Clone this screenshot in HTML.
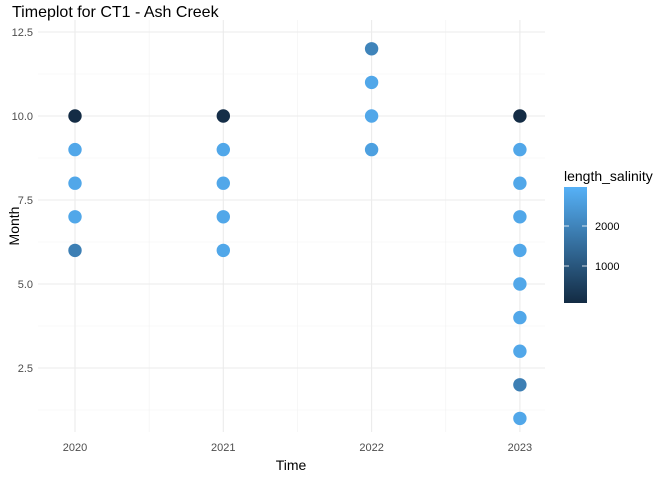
<!DOCTYPE html>
<html><head><meta charset="utf-8"><style>body{margin:0;background:#fff}svg{display:block;font-family:"Liberation Sans",sans-serif}</style></head>
<body>
<svg id="c" width="672" height="480">
<defs><linearGradient id="g" x1="0" y1="1" x2="0" y2="0"><stop offset="0" stop-color="#132B43"/><stop offset="1" stop-color="#56B1F7"/></linearGradient></defs>
<text x="12" y="17" font-size="16" fill="#000">Timeplot for CT1 - Ash Creek</text>
<g id="grid"></g><g id="pts"></g><g id="axes"></g>
<text x="291" y="470" font-size="14" text-anchor="middle">Time</text>
<text transform="translate(19,226) rotate(-90)" font-size="14" text-anchor="middle">Month</text>
<text x="564" y="181" font-size="14">length_salinity</text>
<rect x="564" y="187" width="23" height="116" fill="url(#g)"/>
<g id="leg"></g>
</svg>
<script>
const years=[2020,2020,2020,2020,2020,2021,2021,2021,2021,2021,2022,2022,2022,2022,2023,2023,2023,2023,2023,2023,2023,2023,2023,2023];
const months=[10,9,8,7,6,10,9,8,7,6,12,11,10,9,10,9,8,7,6,5,4,3,2,1];
const salinity=[100,2750,2750,2750,1900,150,2750,2750,2750,2750,2000,2750,2750,2600,100,2750,2750,2750,2750,2750,2750,2750,1900,2750];
const xTicks=[2020,2021,2022,2023];
const yTicks=[2.5,5.0,7.5,10.0,12.5];
const legTicks=[1000,2000];
const NS="http://www.w3.org/2000/svg";
const x=v=>75+(v-2020)*148.3;
const y=v=>116-(v-10)*33.6;
const cmin=75,cmax=2975;
const ly=v=>303-(v-cmin)/(cmax-cmin)*116;
function col(v){let t=Math.max(0,Math.min(1,(v-cmin)/(cmax-cmin)));
const a=[0x13,0x2B,0x43],b=[0x56,0xB1,0xF7];return `rgb(${a.map((c,i)=>Math.round(c+(b[i]-c)*t)).join(',')})`;}
function mk(tag,at,par){const e=document.createElementNS(NS,tag);for(const k in at)e.setAttribute(k,at[k]);document.getElementById(par).appendChild(e);return e;}
const L=38,R=545,T=20,B=432;
for(let i=0;i<xTicks.length;i++){
 let g=mk('line',{x1:x(xTicks[i]),x2:x(xTicks[i]),y1:T,y2:B,stroke:'#ebebeb','stroke-width':1.1},'grid');
 
 
 if(i<xTicks.length-1){let m=mk('line',{x1:x(xTicks[i]+0.5),x2:x(xTicks[i]+0.5),y1:T,y2:B,stroke:'#f2f2f2','stroke-width':0.6},'grid');
 
 }
 let t=mk('text',{x:x(xTicks[i]),y:451,'font-size':11,fill:'#4d4d4d','text-anchor':'middle'},'axes');t.textContent=xTicks[i];
 
 
}
for(let i=0;i<yTicks.length;i++){
 let g=mk('line',{x1:L,x2:R,y1:y(yTicks[i]),y2:y(yTicks[i]),stroke:'#ebebeb','stroke-width':1.1},'grid');
 
 
 let m=mk('line',{x1:L,x2:R,y1:y(yTicks[i]-1.25),y2:y(yTicks[i]-1.25),stroke:'#f2f2f2','stroke-width':0.6},'grid');
 
 
 let t=mk('text',{x:33,y:y(yTicks[i])+4,'font-size':11,fill:'#4d4d4d','text-anchor':'end'},'axes');t.textContent=yTicks[i].toFixed(1);
 
 
}
for(let i=0;i<years.length;i++){
 let c=mk('circle',{cx:x(years[i]),cy:y(months[i]),r:6.7,fill:col(salinity[i])},'pts');
 
 
}
for(const v of legTicks){
 mk('line',{x1:564,x2:569,y1:ly(v),y2:ly(v),stroke:'#fff','stroke-width':0.8},'leg');
 mk('line',{x1:582,x2:587,y1:ly(v),y2:ly(v),stroke:'#fff','stroke-width':0.8},'leg');
 let t=mk('text',{x:595,y:ly(v)+4,'font-size':11,fill:'#000'},'leg');t.textContent=v;
 
 
}
</script>
</body></html>
